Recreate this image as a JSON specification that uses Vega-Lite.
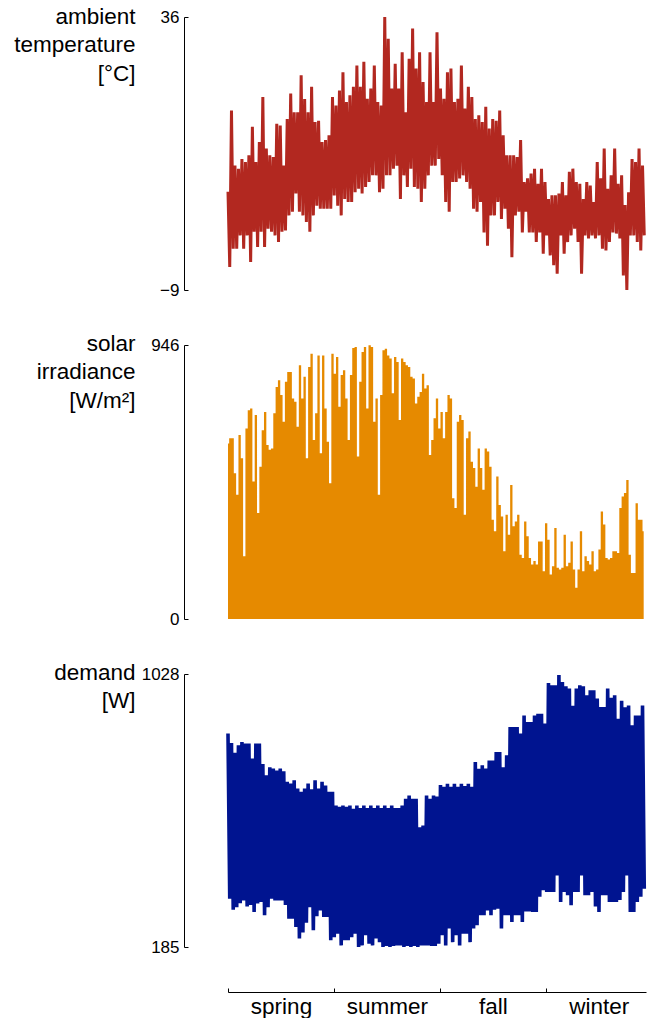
{
  "$schema": "https://vega.github.io/schema/vega-lite/v6.json",
  "padding": {"left": 13, "top": 5, "right": 0, "bottom": 0},
  "bounds": "flush",
  "spacing": 55,
  "config": {
    "view": {"stroke": null},
    "font": "Liberation Sans",
    "axis": {
      "grid": false,
      "domainColor": "#000000",
      "tickColor": "#000000",
      "labelColor": "#000000",
      "titleColor": "#000000",
      "labelFont": "Liberation Sans",
      "titleFont": "Liberation Sans",
      "labelFontSize": 17,
      "titleFontSize": 22.5,
      "titleFontWeight": "normal",
      "domainWidth": 1,
      "tickWidth": 1
    }
  },
  "datasets": {
    "temp": [
      {"d":0,"v":7.2},{"d":1.5,"v":-5.2},{"d":3,"v":20.6},{"d":4.5,"v":-2.2},{"d":6,"v":11.5},{"d":7.5,"v":-2.2},{"d":9,"v":11},{"d":10.5,"v":0},{"d":12,"v":12.6},{"d":13.5,"v":-2.2},{"d":15,"v":12.1},{"d":16.5,"v":0},{"d":18,"v":13.2},{"d":19.5,"v":-4.4},{"d":21,"v":17.9},{"d":22.5,"v":0.6},{"d":24,"v":12.1},{"d":25.5,"v":-1.9},{"d":27,"v":15.4},{"d":28.5,"v":0.6},{"d":30,"v":22.8},{"d":31.5,"v":-1.9},{"d":33,"v":14.3},{"d":34.5,"v":1.1},{"d":36,"v":13.2},{"d":37.5,"v":0.6},{"d":39,"v":12.9},{"d":40.5,"v":0},{"d":42,"v":18.4},{"d":43.5,"v":-1.1},{"d":45,"v":18.1},{"d":46.5,"v":0.6},{"d":48,"v":11.5},{"d":49.5,"v":0.8},{"d":51,"v":19.2},{"d":52.5,"v":3.3},{"d":54,"v":23.4},{"d":55.5,"v":3.9},{"d":57,"v":20.3},{"d":58.5,"v":6.9},{"d":60,"v":20.3},{"d":61.5,"v":3.9},{"d":63,"v":26.4},{"d":64.5,"v":3.3},{"d":66,"v":22.5},{"d":67.5,"v":2.2},{"d":69,"v":20.3},{"d":70.5,"v":0.6},{"d":72,"v":24.5},{"d":73.5,"v":3.3},{"d":75,"v":18.7},{"d":76.5,"v":4.9},{"d":78,"v":18.9},{"d":79.5,"v":4.4},{"d":81,"v":15.4},{"d":82.5,"v":4.4},{"d":84,"v":15.7},{"d":85.5,"v":4.4},{"d":87,"v":16.5},{"d":88.5,"v":4.4},{"d":90,"v":22.8},{"d":91.5,"v":6.6},{"d":93,"v":21.4},{"d":94.5,"v":4.9},{"d":96,"v":23.9},{"d":97.5,"v":3.3},{"d":99,"v":26.9},{"d":100.5,"v":6},{"d":102,"v":22},{"d":103.5,"v":5.5},{"d":105,"v":23.1},{"d":106.5,"v":5.5},{"d":108,"v":24.5},{"d":109.5,"v":7.1},{"d":111,"v":28},{"d":112.5,"v":7.7},{"d":114,"v":24.5},{"d":115.5,"v":6.9},{"d":117,"v":28.6},{"d":118.5,"v":8},{"d":120,"v":22.5},{"d":121.5,"v":8.8},{"d":123,"v":24.2},{"d":124.5,"v":9.9},{"d":126,"v":28},{"d":127.5,"v":9.9},{"d":129,"v":22},{"d":130.5,"v":7.1},{"d":132,"v":21.4},{"d":133.5,"v":7.7},{"d":135,"v":36},{"d":136.5,"v":9.9},{"d":138,"v":32.4},{"d":139.5,"v":9.9},{"d":141,"v":24.2},{"d":142.5,"v":11},{"d":144,"v":28.3},{"d":145.5,"v":11.5},{"d":147,"v":24.2},{"d":148.5,"v":6},{"d":150,"v":30.2},{"d":151.5,"v":9.9},{"d":153,"v":20.3},{"d":154.5,"v":8},{"d":156,"v":29.1},{"d":157.5,"v":11},{"d":159,"v":34.1},{"d":160.5,"v":8},{"d":162,"v":27.5},{"d":163.5,"v":7.7},{"d":165,"v":30.2},{"d":166.5,"v":5.5},{"d":168,"v":25.3},{"d":169.5,"v":7.7},{"d":171,"v":22},{"d":172.5,"v":9.9},{"d":174,"v":30.2},{"d":175.5,"v":11.5},{"d":177,"v":22},{"d":178.5,"v":11.5},{"d":180,"v":33.5},{"d":181.5,"v":12.6},{"d":183,"v":24.2},{"d":184.5,"v":9.9},{"d":186,"v":22.5},{"d":187.5,"v":5.5},{"d":189,"v":26.9},{"d":190.5,"v":3.9},{"d":192,"v":27.5},{"d":193.5,"v":8.8},{"d":195,"v":22},{"d":196.5,"v":8.8},{"d":198,"v":22.5},{"d":199.5,"v":9.4},{"d":201,"v":28},{"d":202.5,"v":9.9},{"d":204,"v":20.9},{"d":205.5,"v":8.8},{"d":207,"v":24.5},{"d":208.5,"v":7.7},{"d":210,"v":22.8},{"d":211.5,"v":4.4},{"d":213,"v":19.2},{"d":214.5,"v":3.9},{"d":216,"v":19.8},{"d":217.5,"v":5.5},{"d":219,"v":18.7},{"d":220.5,"v":0.5},{"d":222,"v":21.2},{"d":223.5,"v":-1.7},{"d":225,"v":17.6},{"d":226.5,"v":3.3},{"d":228,"v":19.2},{"d":229.5,"v":3.3},{"d":231,"v":18.9},{"d":232.5,"v":5.5},{"d":234,"v":20.6},{"d":235.5,"v":2.7},{"d":237,"v":16.5},{"d":238.5,"v":4.4},{"d":240,"v":13.2},{"d":241.5,"v":1.1},{"d":243,"v":13.2},{"d":244.5,"v":-3.6},{"d":246,"v":13.2},{"d":247.5,"v":3.3},{"d":249,"v":12.9},{"d":250.5,"v":3.9},{"d":252,"v":15.7},{"d":253.5,"v":0.5},{"d":255,"v":8.8},{"d":256.5,"v":3.9},{"d":258,"v":9.4},{"d":259.5,"v":0.5},{"d":261,"v":10.2},{"d":262.5,"v":0.5},{"d":264,"v":11},{"d":265.5,"v":-1.1},{"d":267,"v":8.5},{"d":268.5,"v":0.5},{"d":270,"v":11},{"d":271.5,"v":-3},{"d":273,"v":8.8},{"d":274.5,"v":0},{"d":276,"v":6},{"d":277.5,"v":-3.3},{"d":279,"v":6.6},{"d":280.5,"v":-4.9},{"d":282,"v":6.6},{"d":283.5,"v":-6.3},{"d":285,"v":6.9},{"d":286.5,"v":0},{"d":288,"v":8.8},{"d":289.5,"v":-3},{"d":291,"v":6.6},{"d":292.5,"v":-1.1},{"d":294,"v":10.5},{"d":295.5,"v":0},{"d":297,"v":11},{"d":298.5,"v":1.1},{"d":300,"v":8.8},{"d":301.5,"v":-1.1},{"d":303,"v":8.5},{"d":304.5,"v":-6.3},{"d":306,"v":6},{"d":307.5,"v":0},{"d":309,"v":8.8},{"d":310.5,"v":-0.5},{"d":312,"v":8.2},{"d":313.5,"v":0},{"d":315,"v":5.5},{"d":316.5,"v":-0.5},{"d":318,"v":12.1},{"d":319.5,"v":0},{"d":321,"v":9.4},{"d":322.5,"v":-2.2},{"d":324,"v":14.3},{"d":325.5,"v":-2.5},{"d":327,"v":7.7},{"d":328.5,"v":-1.1},{"d":330,"v":9.9},{"d":331.5,"v":0.5},{"d":333,"v":14.3},{"d":334.5,"v":0.3},{"d":336,"v":8.5},{"d":337.5,"v":-0.5},{"d":339,"v":9.9},{"d":340.5,"v":-6.6},{"d":342,"v":5},{"d":343.5,"v":-9},{"d":345,"v":7.1},{"d":346.5,"v":0},{"d":348,"v":12.6},{"d":349.5,"v":0},{"d":351,"v":12.1},{"d":352.5,"v":-1.1},{"d":354,"v":14.3},{"d":355.5,"v":-2.5},{"d":357,"v":11.5},{"d":358.5,"v":0}
    ],
    "solar": [
      {"d":0,"v":606},{"d":2,"v":624},{"d":4,"v":624},{"d":6,"v":503},{"d":8,"v":429},{"d":10,"v":635},{"d":12,"v":555},{"d":14,"v":217},{"d":16,"v":658},{"d":18,"v":721},{"d":20,"v":727},{"d":22,"v":475},{"d":24,"v":704},{"d":26,"v":366},{"d":28,"v":526},{"d":30,"v":652},{"d":32,"v":715},{"d":34,"v":601},{"d":36,"v":584},{"d":38,"v":589},{"d":40,"v":710},{"d":42,"v":801},{"d":44,"v":824},{"d":46,"v":773},{"d":48,"v":681},{"d":50,"v":819},{"d":52,"v":853},{"d":54,"v":853},{"d":56,"v":761},{"d":58,"v":750},{"d":60,"v":664},{"d":62,"v":876},{"d":64,"v":761},{"d":66,"v":836},{"d":68,"v":555},{"d":70,"v":870},{"d":72,"v":916},{"d":74,"v":618},{"d":76,"v":710},{"d":78,"v":910},{"d":80,"v":572},{"d":82,"v":910},{"d":84,"v":727},{"d":86,"v":612},{"d":88,"v":469},{"d":90,"v":916},{"d":92,"v":847},{"d":94,"v":905},{"d":96,"v":733},{"d":98,"v":842},{"d":100,"v":859},{"d":102,"v":761},{"d":104,"v":618},{"d":106,"v":842},{"d":108,"v":936},{"d":110,"v":939},{"d":112,"v":561},{"d":114,"v":819},{"d":116,"v":922},{"d":118,"v":939},{"d":120,"v":727},{"d":122,"v":945},{"d":124,"v":939},{"d":126,"v":681},{"d":128,"v":761},{"d":130,"v":429},{"d":132,"v":773},{"d":134,"v":928},{"d":136,"v":933},{"d":138,"v":910},{"d":140,"v":899},{"d":142,"v":779},{"d":144,"v":905},{"d":146,"v":887},{"d":148,"v":687},{"d":150,"v":899},{"d":152,"v":887},{"d":154,"v":876},{"d":156,"v":870},{"d":158,"v":836},{"d":160,"v":830},{"d":162,"v":744},{"d":164,"v":767},{"d":166,"v":784},{"d":168,"v":847},{"d":170,"v":796},{"d":172,"v":807},{"d":174,"v":566},{"d":176,"v":618},{"d":178,"v":693},{"d":180,"v":761},{"d":182,"v":658},{"d":184,"v":715},{"d":186,"v":624},{"d":188,"v":715},{"d":190,"v":773},{"d":192,"v":761},{"d":194,"v":417},{"d":196,"v":383},{"d":198,"v":681},{"d":200,"v":704},{"d":202,"v":687},{"d":204,"v":360},{"d":206,"v":624},{"d":208,"v":647},{"d":210,"v":543},{"d":212,"v":521},{"d":214,"v":457},{"d":216,"v":589},{"d":218,"v":521},{"d":220,"v":446},{"d":222,"v":589},{"d":224,"v":578},{"d":226,"v":526},{"d":228,"v":343},{"d":230,"v":303},{"d":232,"v":492},{"d":234,"v":394},{"d":236,"v":354},{"d":238,"v":234},{"d":240,"v":360},{"d":242,"v":291},{"d":244,"v":463},{"d":246,"v":320},{"d":248,"v":337},{"d":250,"v":360},{"d":252,"v":222},{"d":254,"v":211},{"d":256,"v":337},{"d":258,"v":286},{"d":260,"v":211},{"d":262,"v":188},{"d":264,"v":200},{"d":266,"v":188},{"d":268,"v":268},{"d":270,"v":268},{"d":272,"v":165},{"d":274,"v":331},{"d":276,"v":274},{"d":278,"v":154},{"d":280,"v":182},{"d":282,"v":314},{"d":284,"v":177},{"d":286,"v":171},{"d":288,"v":177},{"d":290,"v":291},{"d":292,"v":182},{"d":294,"v":194},{"d":296,"v":268},{"d":298,"v":171},{"d":300,"v":108},{"d":302,"v":171},{"d":304,"v":303},{"d":306,"v":165},{"d":308,"v":217},{"d":310,"v":200},{"d":312,"v":188},{"d":314,"v":234},{"d":316,"v":165},{"d":318,"v":171},{"d":320,"v":240},{"d":322,"v":371},{"d":324,"v":326},{"d":326,"v":211},{"d":328,"v":205},{"d":330,"v":211},{"d":332,"v":234},{"d":334,"v":234},{"d":336,"v":228},{"d":338,"v":383},{"d":340,"v":423},{"d":342,"v":435},{"d":344,"v":480},{"d":346,"v":222},{"d":348,"v":159},{"d":350,"v":159},{"d":352,"v":400},{"d":354,"v":343},{"d":356,"v":343},{"d":358,"v":303}
    ],
    "demand": [
      {"d":0,"v":844},{"d":1.5,"v":334},{"d":3,"v":815},{"d":4.5,"v":300},{"d":6,"v":785},{"d":7.5,"v":308},{"d":9,"v":808},{"d":10.5,"v":320},{"d":12,"v":818},{"d":13.5,"v":329},{"d":15,"v":813},{"d":16.5,"v":310},{"d":18,"v":813},{"d":19.5,"v":315},{"d":21,"v":767},{"d":22.5,"v":293},{"d":24,"v":813},{"d":25.5,"v":319},{"d":27,"v":813},{"d":28.5,"v":324},{"d":30,"v":750},{"d":31.5,"v":283},{"d":33,"v":715},{"d":34.5,"v":308},{"d":36,"v":740},{"d":37.5,"v":334},{"d":39,"v":736},{"d":40.5,"v":329},{"d":42,"v":730},{"d":43.5,"v":329},{"d":45,"v":736},{"d":46.5,"v":329},{"d":48,"v":728},{"d":49.5,"v":315},{"d":51,"v":695},{"d":52.5,"v":272},{"d":54,"v":690},{"d":55.5,"v":272},{"d":57,"v":700},{"d":58.5,"v":247},{"d":60,"v":674},{"d":61.5,"v":211},{"d":63,"v":664},{"d":64.5,"v":230},{"d":66,"v":674},{"d":67.5,"v":260},{"d":69,"v":690},{"d":70.5,"v":308},{"d":72,"v":672},{"d":73.5,"v":237},{"d":75,"v":700},{"d":76.5,"v":280},{"d":78,"v":674},{"d":79.5,"v":298},{"d":81,"v":695},{"d":82.5,"v":278},{"d":84,"v":684},{"d":85.5,"v":278},{"d":87,"v":664},{"d":88.5,"v":206},{"d":90,"v":664},{"d":91.5,"v":215},{"d":93,"v":622},{"d":94.5,"v":226},{"d":96,"v":618},{"d":97.5,"v":190},{"d":99,"v":622},{"d":100.5,"v":206},{"d":102,"v":618},{"d":103.5,"v":206},{"d":105,"v":622},{"d":106.5,"v":215},{"d":108,"v":612},{"d":109.5,"v":226},{"d":111,"v":622},{"d":112.5,"v":185},{"d":114,"v":614},{"d":115.5,"v":190},{"d":117,"v":622},{"d":118.5,"v":221},{"d":120,"v":614},{"d":121.5,"v":195},{"d":123,"v":622},{"d":124.5,"v":190},{"d":126,"v":614},{"d":127.5,"v":211},{"d":129,"v":622},{"d":130.5,"v":200},{"d":132,"v":614},{"d":133.5,"v":185},{"d":135,"v":622},{"d":136.5,"v":188},{"d":138,"v":614},{"d":139.5,"v":185},{"d":141,"v":622},{"d":142.5,"v":188},{"d":144,"v":614},{"d":145.5,"v":190},{"d":147,"v":614},{"d":148.5,"v":190},{"d":150,"v":622},{"d":151.5,"v":185},{"d":153,"v":643},{"d":154.5,"v":188},{"d":156,"v":653},{"d":157.5,"v":185},{"d":159,"v":643},{"d":160.5,"v":188},{"d":162,"v":643},{"d":163.5,"v":185},{"d":165,"v":555},{"d":166.5,"v":190},{"d":168,"v":560},{"d":169.5,"v":190},{"d":171,"v":653},{"d":172.5,"v":190},{"d":174,"v":643},{"d":175.5,"v":188},{"d":177,"v":653},{"d":178.5,"v":188},{"d":180,"v":650},{"d":181.5,"v":195},{"d":183,"v":685},{"d":184.5,"v":221},{"d":186,"v":680},{"d":187.5,"v":190},{"d":189,"v":689},{"d":190.5,"v":242},{"d":192,"v":680},{"d":193.5,"v":200},{"d":195,"v":689},{"d":196.5,"v":221},{"d":198,"v":680},{"d":199.5,"v":190},{"d":201,"v":689},{"d":202.5,"v":226},{"d":204,"v":682},{"d":205.5,"v":226},{"d":207,"v":689},{"d":208.5,"v":200},{"d":210,"v":680},{"d":211.5,"v":242},{"d":213,"v":756},{"d":214.5,"v":252},{"d":216,"v":735},{"d":217.5,"v":283},{"d":219,"v":746},{"d":220.5,"v":283},{"d":222,"v":736},{"d":223.5,"v":298},{"d":225,"v":761},{"d":226.5,"v":283},{"d":228,"v":761},{"d":229.5,"v":300},{"d":231,"v":787},{"d":232.5,"v":303},{"d":234,"v":787},{"d":235.5,"v":242},{"d":237,"v":740},{"d":238.5,"v":283},{"d":240,"v":777},{"d":241.5,"v":283},{"d":243,"v":864},{"d":244.5,"v":262},{"d":246,"v":864},{"d":247.5,"v":283},{"d":249,"v":864},{"d":250.5,"v":283},{"d":252,"v":844},{"d":253.5,"v":262},{"d":255,"v":900},{"d":256.5,"v":295},{"d":258,"v":880},{"d":259.5,"v":295},{"d":261,"v":880},{"d":262.5,"v":293},{"d":264,"v":900},{"d":265.5,"v":293},{"d":267,"v":905},{"d":268.5,"v":340},{"d":270,"v":905},{"d":271.5,"v":360},{"d":273,"v":875},{"d":274.5,"v":355},{"d":276,"v":1000},{"d":277.5,"v":355},{"d":279,"v":993},{"d":280.5,"v":355},{"d":282,"v":993},{"d":283.5,"v":406},{"d":285,"v":1025},{"d":286.5,"v":324},{"d":288,"v":1003},{"d":289.5,"v":355},{"d":291,"v":990},{"d":292.5,"v":345},{"d":294,"v":983},{"d":295.5,"v":314},{"d":297,"v":930},{"d":298.5,"v":355},{"d":300,"v":983},{"d":301.5,"v":355},{"d":303,"v":993},{"d":304.5,"v":406},{"d":306,"v":990},{"d":307.5,"v":345},{"d":309,"v":962},{"d":310.5,"v":345},{"d":312,"v":978},{"d":313.5,"v":355},{"d":315,"v":978},{"d":316.5,"v":310},{"d":318,"v":952},{"d":319.5,"v":293},{"d":321,"v":926},{"d":322.5,"v":345},{"d":324,"v":926},{"d":325.5,"v":345},{"d":327,"v":983},{"d":328.5,"v":324},{"d":330,"v":955},{"d":331.5,"v":324},{"d":333,"v":962},{"d":334.5,"v":324},{"d":336,"v":890},{"d":337.5,"v":330},{"d":339,"v":945},{"d":340.5,"v":355},{"d":342,"v":925},{"d":343.5,"v":406},{"d":345,"v":931},{"d":346.5,"v":293},{"d":348,"v":870},{"d":349.5,"v":293},{"d":351,"v":900},{"d":352.5,"v":324},{"d":354,"v":900},{"d":355.5,"v":340},{"d":357,"v":931},{"d":358.5,"v":365}
    ]
  },
  "vconcat": [
    {
      "width": 418,
      "height": 273,
      "data": {"name": "temp"},
      "mark": {"type": "line", "color": "#B22820", "strokeWidth": 3, "strokeJoin": "miter"},
      "encoding": {
        "x": {"field": "d", "type": "quantitative", "scale": {"domain": [0, 360], "nice": false, "zero": false}, "axis": null},
        "y": {
          "field": "v", "type": "quantitative",
          "scale": {"domain": [-9, 36], "nice": false, "zero": false},
          "axis": {
            "values": [-9, 36], "format": "d", "offset": 44, "tickSize": -4, "labelPadding": 9,
            "labelFlush": false, "labelBound": false, "labelOverlap": false,
            "title": ["ambient", "temperature", "[°C]"],
            "titleAngle": 0, "titleAlign": "right", "titleBaseline": "alphabetic",
            "titleX": -49, "titleY": 6, "titleLineHeight": 28.5
          }
        }
      }
    },
    {
      "width": 418,
      "height": 274,
      "data": {"name": "solar"},
      "mark": {"type": "area", "interpolate": "step", "color": "#E68A00"},
      "encoding": {
        "x": {"field": "d", "type": "quantitative", "scale": {"domain": [0, 360], "nice": false, "zero": false}, "axis": null},
        "y": {
          "field": "v", "type": "quantitative",
          "scale": {"domain": [0, 946], "nice": false},
          "axis": {
            "values": [0, 946], "format": "d", "offset": 44, "tickSize": -4, "labelPadding": 9,
            "labelFlush": false, "labelBound": false, "labelOverlap": false,
            "title": ["solar", "irradiance", "[W/m²]"],
            "titleAngle": 0, "titleAlign": "right", "titleBaseline": "alphabetic",
            "titleX": -49, "titleY": 5, "titleLineHeight": 28.5
          }
        }
      }
    },
    {
      "width": 418,
      "height": 273,
      "data": {"name": "demand"},
      "mark": {"type": "line", "color": "#001490", "strokeWidth": 3.6, "strokeJoin": "miter"},
      "encoding": {
        "x": {
          "field": "d", "type": "quantitative",
          "scale": {"domain": [0, 360], "nice": false, "zero": false},
          "axis": {
            "values": [0, 91.25, 182.5, 273.75], "offset": 45, "tickSize": -4, "labelPadding": 25,
            "labelExpr": "datum.value < 1 ? 'spring' : datum.value < 100 ? 'summer' : datum.value < 200 ? 'fall' : 'winter'",
            "labelOffset": 53, "labelAlign": "center", "labelBaseline": "alphabetic",
            "labelFlush": false, "labelBound": false, "labelOverlap": false,
            "labelFontSize": 22.5, "title": null
          }
        },
        "y": {
          "field": "v", "type": "quantitative",
          "scale": {"domain": [185, 1028], "nice": false, "zero": false},
          "axis": {
            "values": [185, 1028], "format": "d", "offset": 44, "tickSize": -4, "labelPadding": 9,
            "labelFlush": false, "labelBound": false, "labelOverlap": false,
            "title": ["demand", "[W]"],
            "titleAngle": 0, "titleAlign": "right", "titleBaseline": "alphabetic",
            "titleX": -49, "titleY": 5, "titleLineHeight": 28.5
          }
        }
      }
    }
  ]
}
